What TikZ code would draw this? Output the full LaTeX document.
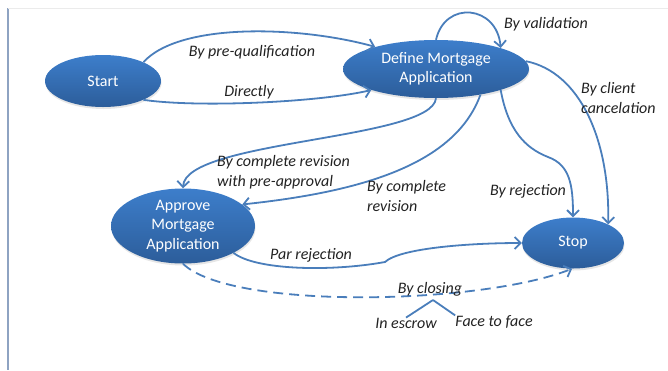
\documentclass[tikz,border=0pt]{standalone}
\usepackage{fontspec}
\setmainfont{Carlito}
\usetikzlibrary{arrows.meta,shapes.geometric,shadows}
\definecolor{stateblue}{HTML}{3D7ECB}
\definecolor{statedark}{HTML}{2C5D9A}
\definecolor{lineblue}{HTML}{4A7EBB}
\definecolor{framegray}{HTML}{8EA3C2}
\definecolor{labelgray}{HTML}{222222}
\tikzset{font=\fontsize{16}{19.5}\selectfont}

\begin{document}
\begin{tikzpicture}[x=1pt,y=-1pt,
            state/.style={ellipse,top color=stateblue,bottom color=statedark,text=white,align=center,inner sep=0pt,
                drop shadow={opacity=0.2,shadow xshift=0.5pt,shadow yshift=-2pt}},
            trans/.style={draw=lineblue,line width=1.8pt,-{Straight Barb[length=6pt,width=12pt]}},
            lbl/.style={font=\fontsize{16}{19.5}\selectfont\itshape,text=labelgray,align=left,inner sep=0pt}
            ]
            \useasboundingbox (0,0) rectangle (668,370);
            \draw[framegray,line width=1.5pt] (8,8) -- (8,370);
            \draw[black!8,line width=0.8pt] (8,8) -- (668,8);

            \node[state,minimum width=116pt,minimum height=52pt] (start) at (103,81) {Start};
            \node[state,minimum width=186pt,minimum height=58pt] (define) at (436,69) {Define Mortgage\\Application};
            \node[state,minimum width=144pt,minimum height=75pt] (approve) at (183,226) {Approve\\Mortgage\\Application};
            \node[state,minimum width=102pt,minimum height=51pt] (stop) at (573,243) {Stop};

            \draw[trans] (start.25) .. controls (180,22) and (300,26) .. (define.160);
            \draw[trans] (start.-25) .. controls (200,108) and (320,102) .. (define.198);
            \draw[trans] (define.90) .. controls (445,0) and (497,5) .. (define.18);
            \draw[trans] (define.5) .. controls (580,72) and (610,140) .. (stop.28);
            \draw[trans] (define.-18) .. controls (508,130) and (525,148) .. (548,157) .. controls (570,165) and (573,185) .. (stop.90);
            \draw[trans] (define.-90) .. controls (432,140) and (185,140) .. (approve.90);
            \draw[trans] (define.-30) .. controls (455,165) and (360,192) .. (approve.20);
            \draw[trans] (approve.-28) .. controls (255,270) and (330,272) .. (385,262) .. controls (400,248) and (470,243) .. (stop.180);
            \draw[trans,dash pattern=on 10pt off 6pt] (approve.-90) .. controls (230,310) and (480,305) .. (stop.-92);

            \node[lbl] (prequal) at (252,52) {By pre-qualification};
            \node[lbl] (directly) at (249,92) {Directly};
            \node[lbl] (validation) at (546,24) {By validation};
            \node[lbl,anchor=west] (cancel) at (581,98) {By client\\cancelation};
            \node[lbl] (rejection) at (528,191) {By rejection};
            \node[lbl,anchor=west] (revpre) at (217,172) {By complete revision\\with pre-approval};
            \node[lbl,anchor=west] (revision) at (367,196) {By complete\\revision};
            \node[lbl] (parrej) at (311,255) {Par rejection};
            \node[lbl] (closing) at (430,289) {By closing};
            \node[lbl] (escrow) at (406,323) {In escrow};
            \node[lbl] (face) at (494,322) {Face to face};

            \coordinate (fork) at (433,300);
            \draw[lineblue,line width=1.8pt] (fork) -- (escrow.north);
            \draw[lineblue,line width=1.8pt] (fork) -- (face.north west);
        \end{tikzpicture}
\end{document}
